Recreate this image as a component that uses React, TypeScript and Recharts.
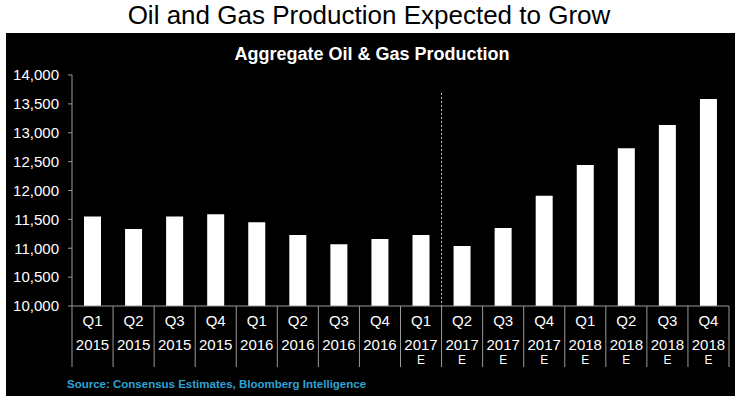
import React from 'react'
import { BarChart, Bar, XAxis, YAxis, ReferenceLine } from 'recharts'

const quarters = ['Q1', 'Q2', 'Q3', 'Q4', 'Q1', 'Q2', 'Q3', 'Q4', 'Q1', 'Q2', 'Q3', 'Q4', 'Q1', 'Q2', 'Q3', 'Q4']
const years = ['2015', '2015', '2015', '2015', '2016', '2016', '2016', '2016', '2017', '2017', '2017', '2017', '2018', '2018', '2018', '2018']
const estimateFlags = ['', '', '', '', '', '', '', '', 'E', 'E', 'E', 'E', 'E', 'E', 'E', 'E']
const production = [11550, 11335, 11550, 11590, 11450, 11230, 11070, 11160, 11230, 11040, 11350, 11910, 12440, 12730, 13135, 13585]
const yTicks = [10000, 10500, 11000, 11500, 12000, 12500, 13000, 13500, 14000]
const forecastIndex = 9

const data = quarters.map((q, i) => ({
  name: `${q} ${years[i]}${estimateFlags[i]}`,
  q,
  year: years[i],
  est: estimateFlags[i],
  value: production[i],
}))

const FONT = '"Liberation Sans", Arial, sans-serif'
const GRID = '#9a9a9a'
const CHART_W = 729
const CHART_H = 363
const MARGIN = { top: 42, right: 6, bottom: 29, left: 0 }
const Y_W = 66
const BAND = (CHART_W - MARGIN.left - MARGIN.right - Y_W) / data.length

const XTick = (props: any) => {
  const { x, y, index } = props
  const d = data[index]
  const left = x - BAND / 2
  const right = x + BAND / 2
  return (
    <g>
      <line x1={left} y1={y} x2={left} y2={y + 61} stroke={GRID} strokeWidth={1} />
      {index === data.length - 1 && (
        <line x1={right} y1={y} x2={right} y2={y + 61} stroke={GRID} strokeWidth={1} />
      )}
      <text x={x} y={y + 20} textAnchor="middle" fill="#fff" fontSize={15} fontFamily={FONT}>{d.q}</text>
      <text x={x} y={y + 44} textAnchor="middle" fill="#fff" fontSize={15} fontFamily={FONT}>{d.year}</text>
      {d.est && (
        <text x={x} y={y + 58} textAnchor="middle" fill="#fff" fontSize={12} fontFamily={FONT}>{d.est}</text>
      )}
    </g>
  )
}

export default function App() {
  return (
    <div style={{ position: 'absolute', left: 0, top: 0, width: 738, height: 396, background: '#fff', overflow: 'hidden' }}>
      <div style={{ position: 'absolute', left: 6, top: 33, width: CHART_W, height: CHART_H, background: '#000' }}>
        <BarChart width={CHART_W} height={CHART_H} data={data} margin={MARGIN}>
          <XAxis
            dataKey="name"
            interval={0}
            height={61}
            tickSize={0}
            tickMargin={0}
            tickLine={false}
            axisLine={{ stroke: GRID }}
            tick={<XTick />}
          />
          <YAxis
            width={Y_W}
            domain={[10000, 14000]}
            ticks={yTicks}
            allowDataOverflow
            tickSize={4}
            tickMargin={9}
            axisLine={{ stroke: GRID }}
            tickLine={{ stroke: GRID }}
            tick={{ fill: '#fff', fontSize: 15, fontFamily: FONT }}
            tickFormatter={(v: number) => v.toLocaleString('en-US')}
          />
          <ReferenceLine
            segment={[{ x: data[forecastIndex].name, y: 13690 }, { x: data[forecastIndex].name, y: 10000 }]}
            position="start"
            stroke="#cfcfcf"
            strokeDasharray="2 2"
            strokeWidth={1}
          />
          <Bar dataKey="value" fill="#fff" barSize={17} isAnimationActive={false} />
        </BarChart>
      </div>
      <svg width={738} height={396} style={{ position: 'absolute', left: 0, top: 0, pointerEvents: 'none' }}>
        <text x={369} y={24} textAnchor="middle" fontSize={26} fontFamily={FONT} fill="#000">
          Oil and Gas Production Expected to Grow
        </text>
        <text x={372} y={60} textAnchor="middle" fontSize={18} fontWeight="bold" fontFamily={FONT} fill="#fff">
          Aggregate Oil &amp; Gas Production
        </text>
        <text x={67} y={388} fontSize={11.5} fontWeight="bold" fontFamily={FONT} fill="#2ea3d5">
          Source: Consensus Estimates, Bloomberg Intelligence
        </text>
      </svg>
    </div>
  )
}
